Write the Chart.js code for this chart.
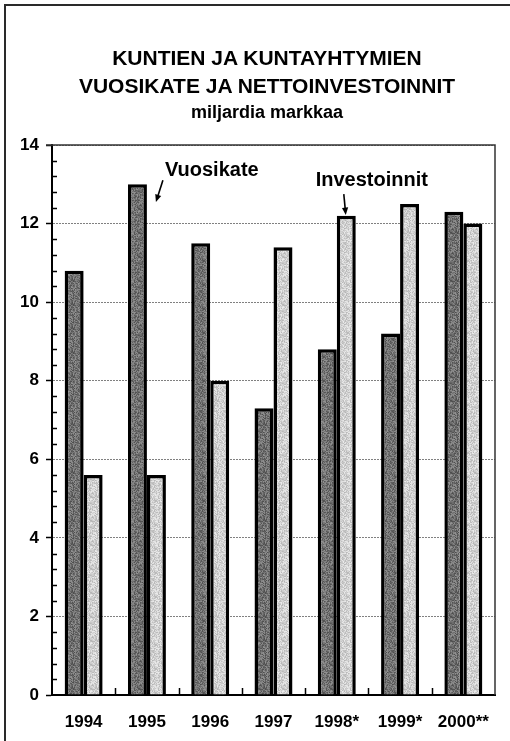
<!DOCTYPE html>
<html>
<head>
<meta charset="utf-8">
<script src="https://cdn.jsdelivr.net/npm/chart.js@4.4.1/dist/chart.umd.min.js"></script>
<style>
  html, body { margin: 0; padding: 0; background: #fff; overflow: hidden; }
  #wrap { position: relative; width: 510px; height: 741px; }
  #chart { position: absolute; left: 0; top: 0; }
  #frame {
    position: absolute; left: 4px; top: 4px; width: 520px; height: 760px;
    border-left: 2px solid #2a2a2a; border-top: 2px solid #2a2a2a;
    pointer-events: none;
  }
  #heading {
    position: absolute; left: 0; top: 44px; width: 534px;
    text-align: center; color: #000;
    font-family: 'Liberation Sans', Arial, Helvetica, sans-serif; font-weight: bold;
  }
  #heading h1 { margin: 0; font-size: 21px; line-height: 28px; }
  #heading h2 { margin: 2px 0 0 0; font-size: 18px; line-height: 20px; }
</style>
</head>
<body>
<div id="wrap">
  <canvas id="chart" width="510" height="741"></canvas>
  <div id="heading"><h1 id="title"></h1><h2 id="unit"></h2></div>
  <div id="frame"></div>
</div>
<script>
const years = ["1994", "1995", "1996", "1997", "1998*", "1999*", "2000**"];
const vuosikate = [10.8, 13.0, 11.5, 7.3, 8.8, 9.2, 12.3];
const investoinnit = [5.6, 5.6, 8.0, 11.4, 12.2, 12.5, 12.0];
const yMin = 0;
const yMax = 14;
const yStep = 2;
const titleLines = ["KUNTIEN JA KUNTAYHTYMIEN", "VUOSIKATE JA NETTOINVESTOINNIT"];
const unitText = "miljardia markkaa";

const FONT = "'Liberation Sans', Arial, Helvetica, sans-serif";

document.getElementById("title").innerHTML = titleLines.join("<br>");
document.getElementById("unit").textContent = unitText;

// harmaa rasteripinta pylväille (deterministinen kohina)
function grain(base, amp) {
  const c = document.createElement("canvas");
  c.width = 24;
  c.height = 24;
  const g = c.getContext("2d");
  const img = g.createImageData(24, 24);
  let s = 12345;
  for (let i = 0; i < 24 * 24; i++) {
    s ^= s << 13;
    s ^= s >>> 17;
    s ^= s << 5;
    const h = ((s >>> 0) % 1000) / 1000;
    const v = Math.round(base + (h - 0.5) * amp);
    img.data[i * 4] = v;
    img.data[i * 4 + 1] = v;
    img.data[i * 4 + 2] = v;
    img.data[i * 4 + 3] = 255;
  }
  g.putImageData(img, 0, 0);
  return g.createPattern(c, "repeat");
}

// kuva-alueen ylä- ja oikea reuna
const plotFrame = {
  id: "plotFrame",
  afterDraw(chart) {
    const { ctx, chartArea } = chart;
    ctx.save();
    ctx.strokeStyle = "#333";
    ctx.lineWidth = 1.5;
    ctx.beginPath();
    ctx.moveTo(chartArea.left - 6, chartArea.top);
    ctx.lineTo(chartArea.right, chartArea.top);
    ctx.lineTo(chartArea.right, chartArea.bottom);
    ctx.stroke();
    ctx.restore();
  },
};

// pienet väliviivat y-akselille ja x-akselin luokkarajat
const minorTicks = {
  id: "minorTicks",
  afterDraw(chart) {
    const { ctx, chartArea, scales } = chart;
    const y = scales.y;
    const x = scales.x;
    ctx.save();
    ctx.strokeStyle = "#000";
    ctx.lineWidth = 1.5;
    ctx.beginPath();
    for (let k = 1; k < 35; k++) {
      if (k % 5 === 0) continue;
      const py = Math.round(y.getPixelForValue(k * 0.4)) + 0.5;
      ctx.moveTo(chartArea.left, py);
      ctx.lineTo(chartArea.left + 5, py);
    }
    for (let i = 1; i < years.length; i++) {
      const px =
        Math.round((x.getPixelForValue(i - 1) + x.getPixelForValue(i)) / 2) + 0.5;
      ctx.moveTo(px, chartArea.bottom);
      ctx.lineTo(px, chartArea.bottom - 7);
    }
    ctx.stroke();
    ctx.restore();
  },
};

function arrow(ctx, x1, y1, x2, y2) {
  const a = Math.atan2(y2 - y1, x2 - x1);
  const len = 8;
  ctx.beginPath();
  ctx.moveTo(x1, y1);
  ctx.lineTo(x2 - Math.cos(a) * 5, y2 - Math.sin(a) * 5);
  ctx.stroke();
  ctx.beginPath();
  ctx.moveTo(x2, y2);
  ctx.lineTo(x2 - len * Math.cos(a - 0.4), y2 - len * Math.sin(a - 0.4));
  ctx.lineTo(x2 - len * Math.cos(a + 0.4), y2 - len * Math.sin(a + 0.4));
  ctx.closePath();
  ctx.fill();
}

// sarjojen nimet nuolineen
const seriesNotes = {
  id: "seriesNotes",
  afterDatasetsDraw(chart) {
    const { ctx, scales } = chart;
    const x = scales.x;
    const y = scales.y;
    ctx.save();
    ctx.fillStyle = "#000";
    ctx.strokeStyle = "#000";
    ctx.lineWidth = 1.6;
    ctx.font = `bold 20px ${FONT}`;
    ctx.textBaseline = "middle";

    const c95 = x.getPixelForValue(1);
    ctx.textAlign = "left";
    ctx.fillText("Vuosikate", c95 + 18, y.getPixelForValue(13.36));
    arrow(ctx, c95 + 16, y.getPixelForValue(13.1), c95 + 9, y.getPixelForValue(12.55));

    const c98 = x.getPixelForValue(4);
    ctx.textAlign = "center";
    ctx.fillText("Investoinnit", c98 + 35, y.getPixelForValue(13.1));
    arrow(ctx, c98 + 7, y.getPixelForValue(12.75), c98 + 9, y.getPixelForValue(12.22));
    ctx.restore();
  },
};

new Chart(document.getElementById("chart"), {
  type: "bar",
  data: {
    labels: years,
    datasets: [
      {
        label: "Vuosikate",
        data: vuosikate,
        backgroundColor: grain(112, 70),
        borderColor: "#000",
        borderWidth: 3.5,
      },
      {
        label: "Investoinnit",
        data: investoinnit,
        backgroundColor: grain(208, 55),
        borderColor: "#000",
        borderWidth: 3.5,
      },
    ],
  },
  options: {
    responsive: false,
    animation: false,
    layout: { padding: { left: 0, right: 15, top: 145, bottom: 0 } },
    datasets: {
      bar: { categoryPercentage: 0.6, barPercentage: 1.0 },
    },
    plugins: {
      legend: { display: false },
      tooltip: { enabled: false },
    },
    scales: {
      x: {
        grid: { display: false },
        border: { display: true, color: "#000", width: 2 },
        ticks: {
          color: "#000",
          padding: 9,
          font: { family: FONT, size: 17, weight: "bold" },
        },
        afterFit(scale) {
          scale.height = 46;
        },
      },
      y: {
        min: yMin,
        max: yMax,
        ticks: {
          stepSize: yStep,
          color: "#000",
          padding: 7,
          font: { family: FONT, size: 17, weight: "bold" },
        },
        grid: {
          color: "#808080",
          lineWidth: 1,
          tickLength: 6,
          tickColor: "#000",
          tickWidth: 1.5,
        },
        border: { display: true, color: "#000", width: 2, dash: [2, 1] },
        afterFit(scale) {
          scale.width = 52;
        },
      },
    },
  },
  plugins: [plotFrame, minorTicks, seriesNotes],
});
</script>
</body>
</html>
